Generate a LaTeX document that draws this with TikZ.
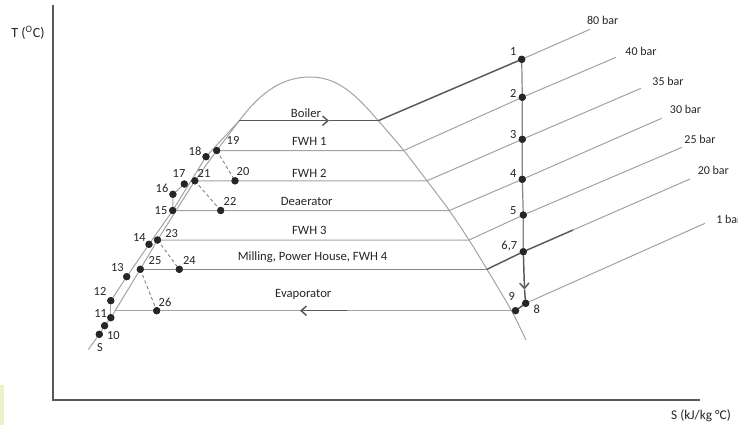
\documentclass[tikz,border=0pt]{standalone}
\usepackage{fontspec}
\setmainfont{Carlito}
\usetikzlibrary{arrows.meta}
\definecolor{lgray}{HTML}{A3A3A3}
\definecolor{mgray}{HTML}{858585}
\definecolor{dgray}{HTML}{5A5A5A}
\definecolor{dotc}{HTML}{262626}
\definecolor{txt}{HTML}{262626}
\definecolor{axisc}{HTML}{595959}
\definecolor{strip}{HTML}{E9F2C9}
\begin{document}
\begin{tikzpicture}[x=0.75pt,y=-0.75pt,
  dot/.style={circle,fill=dotc,inner sep=0pt,minimum size=5.4pt},
  lbl/.style={inner sep=0pt,text=txt,font=\fontsize{9.3}{10}\selectfont},
  proc/.style={inner sep=0pt,text=txt,font=\fontsize{9.5}{11}\selectfont},
  barlbl/.style={inner sep=0pt,text=txt,font=\fontsize{9}{10}\selectfont},
  isob/.style={draw=lgray,line width=0.75pt},
  midl/.style={draw=mgray,line width=0.9pt},
  dark/.style={draw=dgray,line width=1.1pt},
  dsh/.style={draw=mgray,dash pattern=on 2.5pt off 2pt,line width=0.7pt},
  axisl/.style={draw=axisc,line width=1.5pt},
  tip/.style={-{Straight Barb[length=4pt,width=7pt]}}
]
\useasboundingbox (0,0) rectangle (738,425);
\fill[white] (0,0) rectangle (738,425);
\fill[strip] (0,385) rectangle (4,425);

% axes
\coordinate (ax0) at (53,400);
\coordinate (axT) at (53,5);
\coordinate (axS) at (700,400);
\draw[axisl] (axT) -- (ax0) -- (axS);
\node[inner sep=0pt,text=txt,font=\fontsize{10.5}{12}\selectfont] (tlab) at (28,33) {T (\textsuperscript{O}C)};
\node[inner sep=0pt,text=txt,font=\fontsize{10}{12}\selectfont] (slab) at (701,416) {S (kJ/kg °C)};

% dots
\node[dot] (p1) at (521.7,59.3) {};
\node[dot] (p2) at (522.3,97.3) {};
\node[dot] (p3) at (522.3,139.3) {};
\node[dot] (p4) at (522.3,179.3) {};
\node[dot] (p5) at (523.3,215) {};
\node[dot] (p67) at (523.3,251.7) {};
\node[dot] (p8) at (525.7,303.3) {};
\node[dot] (p9) at (515.5,310.7) {};
\node[dot] (p10) at (99.3,334.3) {};
\node[dot] (p10b) at (104.6,325.7) {};
\node[dot] (p11) at (110.8,317.7) {};
\node[dot] (p12) at (110.8,300.7) {};
\node[dot] (p13) at (126.7,276.7) {};
\node[dot] (p14) at (149,244.3) {};
\node[dot] (p15) at (172.7,210.5) {};
\node[dot] (p16) at (172.9,194.3) {};
\node[dot] (p17) at (184.3,184) {};
\node[dot] (p18) at (206,156.7) {};
\node[dot] (p19) at (216.7,150.5) {};
\node[dot] (p20) at (235,180.8) {};
\node[dot] (p21) at (194.8,180.8) {};
\node[dot] (p22) at (220.7,210.5) {};
\node[dot] (p23) at (157.5,240) {};
\node[dot] (p24) at (179.3,269.3) {};
\node[dot] (p25) at (140.3,269.3) {};
\node[dot] (p26) at (156.7,310.7) {};

% auxiliary coordinates
\coordinate (aL) at (239.3,120.7);
\coordinate (top) at (310,77);
\coordinate (b1) at (378.3,120.7);
\coordinate (f1) at (403.8,150.5);
\coordinate (f2) at (427,180.8);
\coordinate (f3) at (449.3,210.5);
\coordinate (f4) at (469,240);
\coordinate (f5) at (487,269.3);
\coordinate (ev9) at (511.5,310.7);
\coordinate (domeBot) at (526,340);
\coordinate (ev0) at (115.1,310.7);
\coordinate (sEnd) at (88.3,349.5);
\coordinate (e80) at (590,29.3);
\coordinate (e40) at (616,57.3);
\coordinate (e35) at (641,88.3);
\coordinate (e30) at (661.7,118.3);
\coordinate (e25) at (682,147.3);
\coordinate (e20) at (690,179);
\coordinate (m20) at (573,230);
\coordinate (e1) at (705,223.3);
\coordinate (barr) at (329,120.7);
\coordinate (earr0) at (346.7,310.7);
\coordinate (earr) at (300,310.7);
\coordinate (varr) at (524.5,289.5);

% dome
\draw[isob] (aL) .. controls (260.3,92.7) and (282,77) .. (top)
  .. controls (338,77) and (355.7,94.7) .. (b1);
\draw[isob] plot[smooth] coordinates {(378.3,120.7) (403.8,150.5) (427,180.8) (449.3,210.5) (469,240) (487,269.3) (511.5,310.7) (526,340)};
% saturated liquid line
\draw[isob] (aL) -- (p19.center) -- (p21.center) -- (p23.center) -- (p25.center) -- (ev0) -- (p11.center) -- (p10b.center) -- (p10.center) -- (sEnd);
% feed water line
\draw[isob] (p12.center) -- (p13.center) -- (p14.center) -- (p15.center) -- (p18.center) -- (aL);
\draw[isob] (p11.center) -- (p12.center);
\draw[isob] (p15.center) -- (p16.center) -- (p17.center);

% boiler
\draw[dark,tip] (aL) -- (barr);
\draw[dark] (barr) -- (b1);
\draw[dark] (b1) -- (p1.center);
\draw[isob] (p1.center) -- (e80);
% FWH 1
\draw[isob] (p19.center) -- (f1) -- (p2.center) -- (e40);
% FWH 2
\draw[isob] (p21.center) -- (f2) -- (p3.center) -- (e35);
% Deaerator
\draw[isob] (p15.center) -- (f3) -- (p4.center) -- (e30);
% FWH 3
\draw[isob] (p23.center) -- (f4) -- (p5.center) -- (e25);
% Milling
\draw[midl] (p25.center) -- (f5);
\draw[dark] (f5) -- (p67.center) -- (m20);
\draw[isob] (m20) -- (e20);
% Evaporator
\draw[isob] (ev0) -- (p9.center);
\draw[dark,tip] (earr0) -- (earr);
\draw[dark] (p9.center) -- (p8.center);
% 1 bar
\draw[isob] (p8.center) -- (e1);
% expansion line
\draw[midl] (p1.center) -- (p2.center) -- (p3.center) -- (p4.center) -- (p5.center) -- (p67.center);
\draw[dark,tip] (p67.center) -- (varr);
\draw[dark] (varr) -- (p8.center);
% dashed
\draw[dsh] (p19.center) -- (p20.center);
\draw[dsh] (p21.center) -- (p22.center);
\draw[dsh] (p23.center) -- (p24.center);
\draw[dsh] (p25.center) -- (p26.center);

% dots on top
\foreach \n in {p1,p2,p3,p4,p5,p67,p8,p9,p10,p10b,p11,p12,p13,p14,p15,p16,p17,p18,p19,p20,p21,p22,p23,p24,p25,p26}
  \fill[dotc] (\n.center) circle (2.7pt);

% process labels
\node[proc] (tBoiler) at (306,112.7) {Boiler};
\node[proc] (tF1) at (309.3,141.7) {FWH 1};
\node[proc] (tF2) at (309.3,173) {FWH 2};
\node[proc] (tDea) at (306.7,201.7) {Deaerator};
\node[proc] (tF3) at (309.3,230) {FWH 3};
\node[proc] (tMil) at (312.5,257.5) {Milling, Power House, FWH 4};
\node[proc] (tEva) at (303.3,294) {Evaporator};

% pressure labels
\node[barlbl] (l80) at (602.7,20.7) {80 bar};
\node[barlbl] (l40) at (641,51) {40 bar};
\node[barlbl] (l35) at (668,81.7) {35 bar};
\node[barlbl] (l30) at (685.5,109.5) {30 bar};
\node[barlbl] (l25) at (700,139.3) {25 bar};
\node[barlbl] (l20) at (713.3,170) {20 bar};
\node[barlbl,anchor=west] (l1) at (716,219.3) {1 bar};

% state labels
\node[lbl] (n1) at (513.3,51.7) {1};
\node[lbl] (n2) at (513.3,93.3) {2};
\node[lbl] (n3) at (513.3,135) {3};
\node[lbl] (n4) at (513.3,173.3) {4};
\node[lbl] (n5) at (513.3,210.7) {5};
\node[lbl] (n67) at (509.3,246) {6,7};
\node[lbl] (n9) at (511.7,296.7) {9};
\node[lbl] (n8) at (536.7,309.3) {8};
\node[lbl] (n19) at (233,140.7) {19};
\node[lbl] (n18) at (195,151.7) {18};
\node[lbl] (n20) at (243,171.7) {20};
\node[lbl] (n21) at (204,173) {21};
\node[lbl] (n17) at (179,174) {17};
\node[lbl] (n16) at (162,188) {16};
\node[lbl] (n15) at (161,210.7) {15};
\node[lbl] (n22) at (230,201.7) {22};
\node[lbl] (n14) at (139.3,237.3) {14};
\node[lbl] (n23) at (171.7,234) {23};
\node[lbl] (n13) at (117.3,267.3) {13};
\node[lbl] (n25) at (155,260.7) {25};
\node[lbl] (n24) at (189.3,260.7) {24};
\node[lbl] (n12) at (100,291.7) {12};
\node[lbl] (n26) at (165,302.7) {26};
\node[lbl] (n11) at (100.7,313.3) {11};
\node[lbl] (n10) at (113.3,336) {10};
\node[lbl] (nS) at (100,347.3) {S};
\end{tikzpicture}
\end{document}
